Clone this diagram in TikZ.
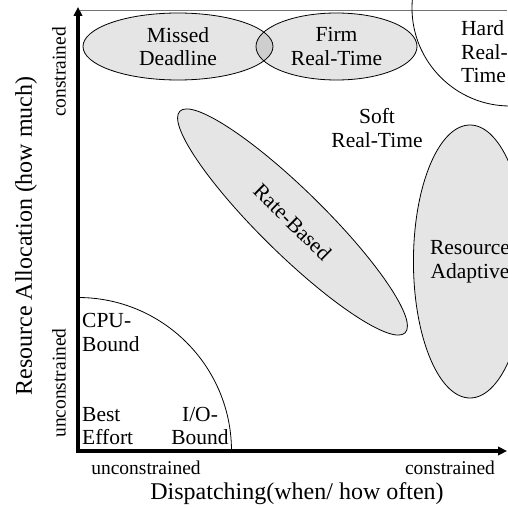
\documentclass[tikz,border=0pt]{standalone}
\usepackage{fontspec}
\setmainfont{Liberation Serif}
\usetikzlibrary{shapes.geometric,arrows.meta}

\tikzset{
  region/.style={ellipse, draw, line width=0.8pt, fill=black, fill opacity=0.1,
    text opacity=1, draw opacity=1, inner sep=0pt},
  lbl/.style={font=\fontsize{21.5}{23.5}\selectfont, align=center, inner sep=0pt},
  lbll/.style={font=\fontsize{21.5}{23.5}\selectfont, align=left, inner sep=0pt, anchor=west},
  small/.style={font=\fontsize{19.5}{22}\selectfont, inner sep=0pt},
  title/.style={font=\fontsize{24}{26}\selectfont, inner sep=0pt},
  axis/.style={line width=3.6pt, -{Triangle[length=9pt,width=8.5pt]}},
}

\begin{document}
\begin{tikzpicture}[x=1pt,y=1pt]
\useasboundingbox (0,0) rectangle (507,-508);

% frame line along the top
\draw[black!55, line width=0.8pt] (80,-10) -- (507,-10);

% hard real-time corner
\node[circle, draw, line width=0.8pt, minimum size=196pt, inner sep=0pt] (hard) at (510,-8) {};
\node[lbll] (hardtxt) at (461,-52) {Hard\\Real-\\Time};

% best-effort quadrant
\coordinate (o) at (78,-451);
\draw[line width=0.8pt] ([yshift=153.5pt]o) coordinate (bq) arc (90:0:153.5pt);
\node[lbll] (cpu) at (82,-332.5) {CPU-\\Bound};
\node[lbll] (best) at (82,-426) {Best\\Effort};
\node[lbl] (io) at (200,-426) {I/O-\\Bound};

% scheduling classes
\node[region, lbl, minimum width=190pt, minimum height=67pt] (missed) at (178,-46.5) {Missed\\Deadline};
\node[region, lbl, minimum width=161pt, minimum height=67pt] (firm) at (336.5,-46.5) {Firm\\Real-Time};
\node[region, lbl, minimum width=316pt, minimum height=64pt, rotate=-44.5] (rate) at (292.5,-222) {Rate-Based};
\node[region, lbl, minimum width=92pt, minimum height=273pt] (adapt) at (470,-261.5) {Resource\\Adaptive};
\node[lbl] (soft) at (377,-128) {Soft\\Real-Time};

% axes
\coordinate (ytop) at (78,-7);
\coordinate (xend) at (507,-451);
\draw[axis] ([yshift=-2pt]o) -- (ytop);
\draw[axis] ([xshift=-2pt]o) -- (xend);

% axis labels
\node[small] (xu) at (146,-468) {unconstrained};
\node[small] (xc) at (450,-468) {constrained};
\node[title] (xt) at (297,-494) {Dispatching(when/ how often)};
\node[small, rotate=90] (yc) at (59,-72) {constrained};
\node[small, rotate=90] (yu) at (59,-383) {unconstrained};
\node[title, rotate=90] (yt) at (26,-236) {Resource Allocation (how much)};
\end{tikzpicture}
\end{document}
